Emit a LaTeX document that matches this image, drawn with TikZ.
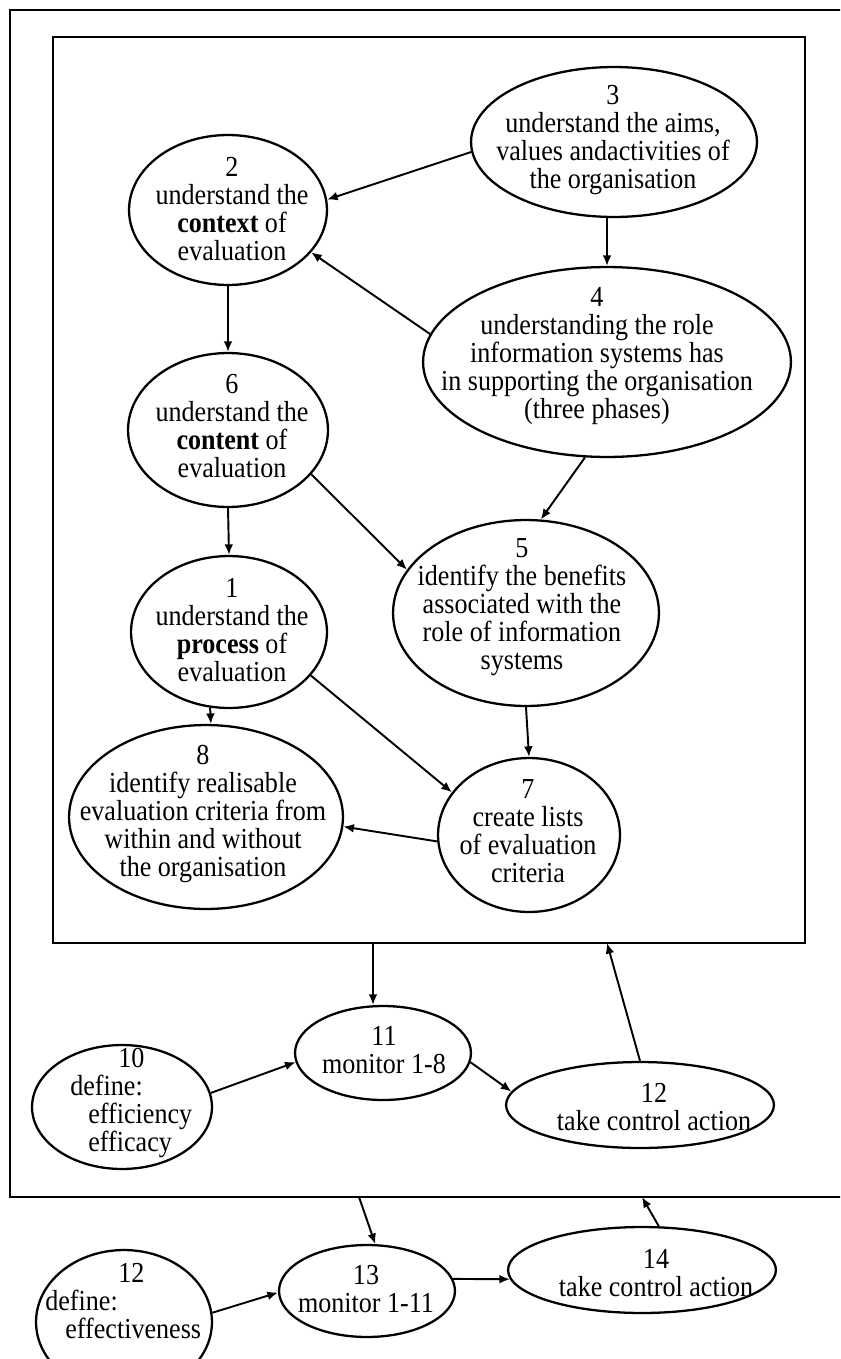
\documentclass[tikz,border=0pt]{standalone}
\usepackage{fontspec}
\setmainfont[FakeStretch=0.9]{Liberation Serif}
\usetikzlibrary{shapes.geometric,arrows.meta}
\tikzset{
  ell/.style 2 args={ellipse, draw, line width=1.3pt, inner sep=0pt,
    minimum width={#1*0.04cm}, minimum height={#2*0.04cm}},
  lbl/.style={align=center, inner sep=0pt, font=\fontsize{16.5}{16}\selectfont},
  lbll/.style={align=left, inner sep=0pt, anchor=west, font=\fontsize{16.5}{16}\selectfont},
  arr/.style={-{Latex[length=6pt,width=5pt]}, line width=1.1pt},
  box/.style={line width=1.3pt}
}
\begin{document}
\begin{tikzpicture}[x=0.02cm,y=-0.02cm]
\clip (0,0) rectangle (840,1359);
\fill[white] (0,0) rectangle (840,1359);

% boxes
\coordinate (obTL) at (10,10);
\coordinate (obBR) at (880,1197);
\coordinate (ibTL) at (53,37);
\coordinate (ibBR) at (805,943);
\draw[box] (obTL) rectangle (obBR);
\draw[box] (ibTL) rectangle (ibBR);
\coordinate (ib11) at (373,943);
\coordinate (ib12) at (607,943);
\coordinate (ob13) at (359,1197);
\coordinate (ob14) at (642,1197);

% ellipses
\node[ell={143}{75}] (n3) at (614,142) {};
\node[ell={99}{75}]  (n2) at (228,210) {};
\node[ell={184}{95}] (n4) at (607,362) {};
\node[ell={100}{77}] (n6) at (228,430) {};
\node[ell={133}{93}] (n5) at (526,613) {};
\node[ell={98}{76}]  (n1) at (229,632) {};
\node[ell={91}{77}]  (n7) at (529,835) {};
\node[ell={137}{92}] (n8) at (206,817) {};
\node[ell={88}{47}]  (n11) at (383,1053) {};
\node[ell={90}{62}]  (n10) at (122,1107) {};
\node[ell={134}{43}] (n12) at (640,1105) {};
\node[ell={88}{46}]  (n13) at (367,1291) {};
\node[ell={134}{43}] (n14) at (642,1270) {};
\node[ell={88}{72}]  (n12b) at (124,1322) {};

% labels
\node[lbl] (l3) at (613,140) {3\\understand the aims,\\values andactivities of\\the organisation};
\node[lbl] (l2) at (232,209) {2\\understand the\\\textbf{context} of\\evaluation};
\node[lbl] (l4) at (597,356) {4\\understanding the role\\information systems has\\in supporting the organisation\\(three phases)};
\node[lbl] (l6) at (232,426) {6\\understand the\\\textbf{content} of\\evaluation};
\node[lbl] (l5) at (522,607) {5\\identify the benefits\\associated with the\\role of information\\systems};
\node[lbl] (l1) at (232,630) {1\\understand the\\\textbf{process} of\\evaluation};
\node[lbl] (l7) at (528,831) {7\\create lists\\of evaluation\\criteria};
\node[lbl] (l8) at (203,814) {8\\identify realisable\\evaluation criteria from\\within and without\\the organisation};
\node[lbl] (l11) at (384,1050) {11\\monitor 1-8};
\node[lbl] (l12) at (654,1107) {12\\take control action};
\node[lbl] (l13) at (366,1289) {13\\monitor 1-11};
\node[lbl] (l14) at (656,1273) {14\\take control action};
\node[lbll] (l10) at (70,1103) {\hspace*{0.96cm}10\\define:\\\hspace*{0.36cm}efficiency\\\hspace*{0.36cm}efficacy};
\node[lbll] (l12b) at (45,1301) {\hspace*{1.46cm}12\\define:\\\hspace*{0.4cm}effectiveness};

% connectors
\draw[arr] (n3.184) -- (n2.6);
\draw[arr] (n4.north |- n3.south) -- (n4.north);
\draw[arr] (n4.171) -- (n2.333);
\draw[arr] (n2.south) -- (n6.north);
\draw[arr] (n6.332) -- (n5.160);
\draw[arr] (n4.257) -- (n5.81);
\draw[arr] (n6.south) -- (n1.north);
\draw[arr] (n1.256) -- (n8.87);
\draw[arr] (n1.332) -- (n7.151);
\draw[arr] (n5.south) -- (n7.north);
\draw[arr] (n7.184) -- (n8.356);
\draw[arr] (ib11) -- (ib11 |- n11.north);
\draw[arr] (n12.north) -- (ib12);
\draw[arr] (n10.9) -- (n11.186);
\draw[arr] (n11.354) -- (n12.174);
\draw[arr] (ob13) -- (n13.80);
\draw[arr] (n14.69) -- (ob14);
\draw[arr] (n12b.6) -- (n13.181);
\draw[arr] (n13.8) -- (n14.184);
\end{tikzpicture}
\end{document}
